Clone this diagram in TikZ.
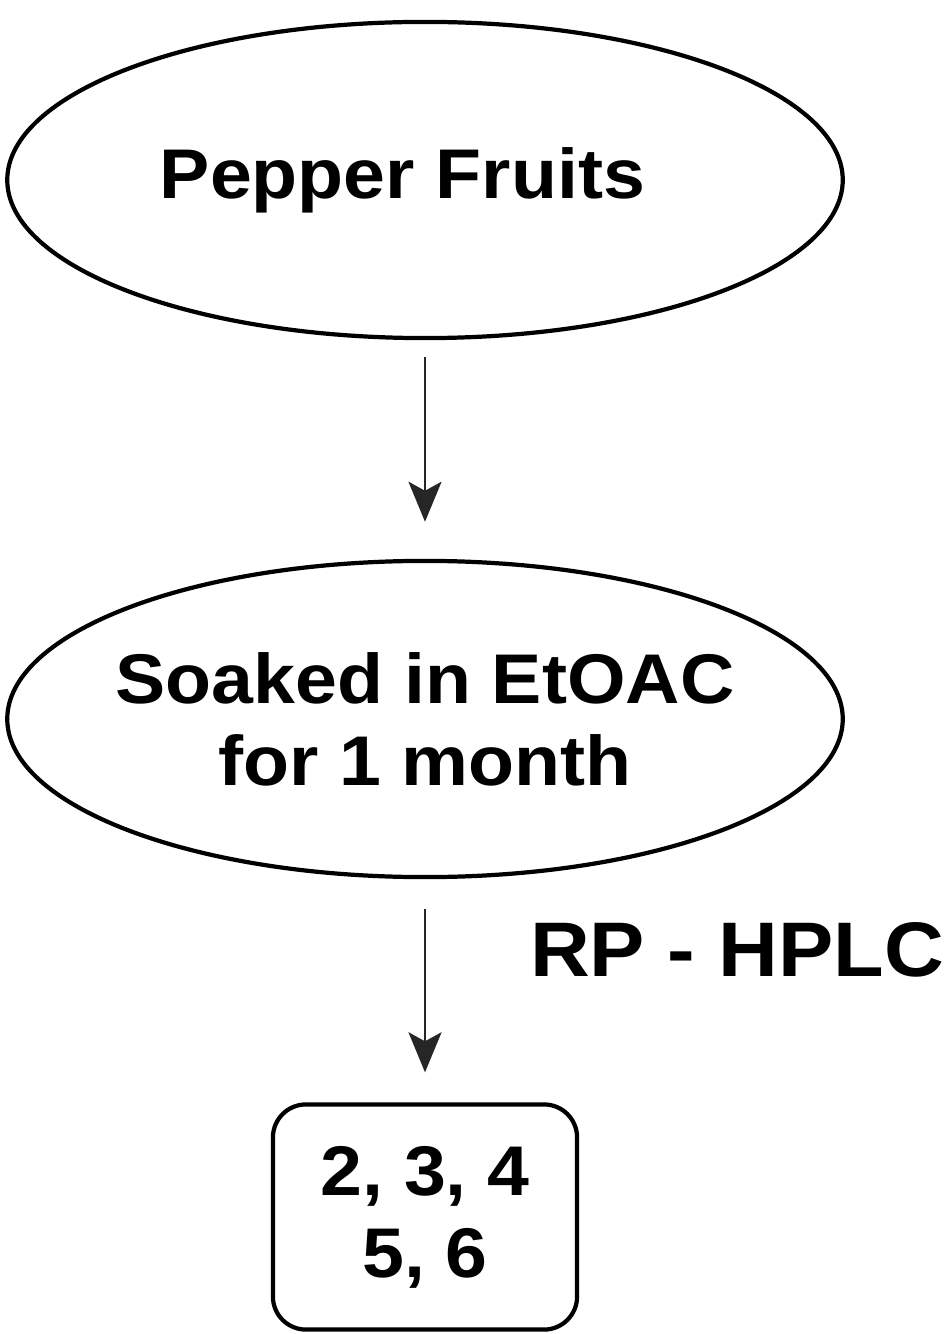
\documentclass[tikz,border=0pt]{standalone}
\usepackage{fontspec}
\setmainfont{Liberation Sans}[FakeStretch=1.07]
\usetikzlibrary{shapes.geometric,arrows.meta}
\tikzset{
  stage/.style={ellipse, draw, line width=1.2pt, minimum width=8.35cm, minimum height=3.16cm, inner ysep=0pt, inner xsep=-0.6cm, align=center, font=\fontsize{20}{23.3}\selectfont\bfseries},
  result/.style={rectangle, rounded corners=3.3mm, draw, line width=1.2pt, minimum width=3.04cm, minimum height=2.25cm, inner sep=0pt, align=center, font=\fontsize{20}{23.3}\selectfont\bfseries},
  method/.style={inner sep=0pt, font=\fontsize{22}{26}\selectfont\bfseries},
  flow/.style={line width=0.7pt, black!85, -{Stealth[length=4mm, width=3.3mm, inset=0.9mm]}}
}
\begin{document}
\begin{tikzpicture}[x=0.01cm, y=-0.01cm]
  \useasboundingbox (0,0) rectangle (947,1334);

  \node[stage] (fruits) at (425,180) {Pepper Fruits\hspace*{0.45cm}};
  \node[stage] (soaked) at (425,719) {Soaked in EtOAC\\for 1 month};
  \node[result] (compounds) at (425,1217) {2, 3, 4\\5, 6};
  \node[method] (hplc) at (737,950) {RP - HPLC};

  \draw[flow, shorten <=1.7mm, shorten >=3.7mm] (fruits.south) -- (soaked.north);
  \draw[flow, shorten <=3mm, shorten >=3mm] (soaked.south) -- (compounds.north);
\end{tikzpicture}
\end{document}
